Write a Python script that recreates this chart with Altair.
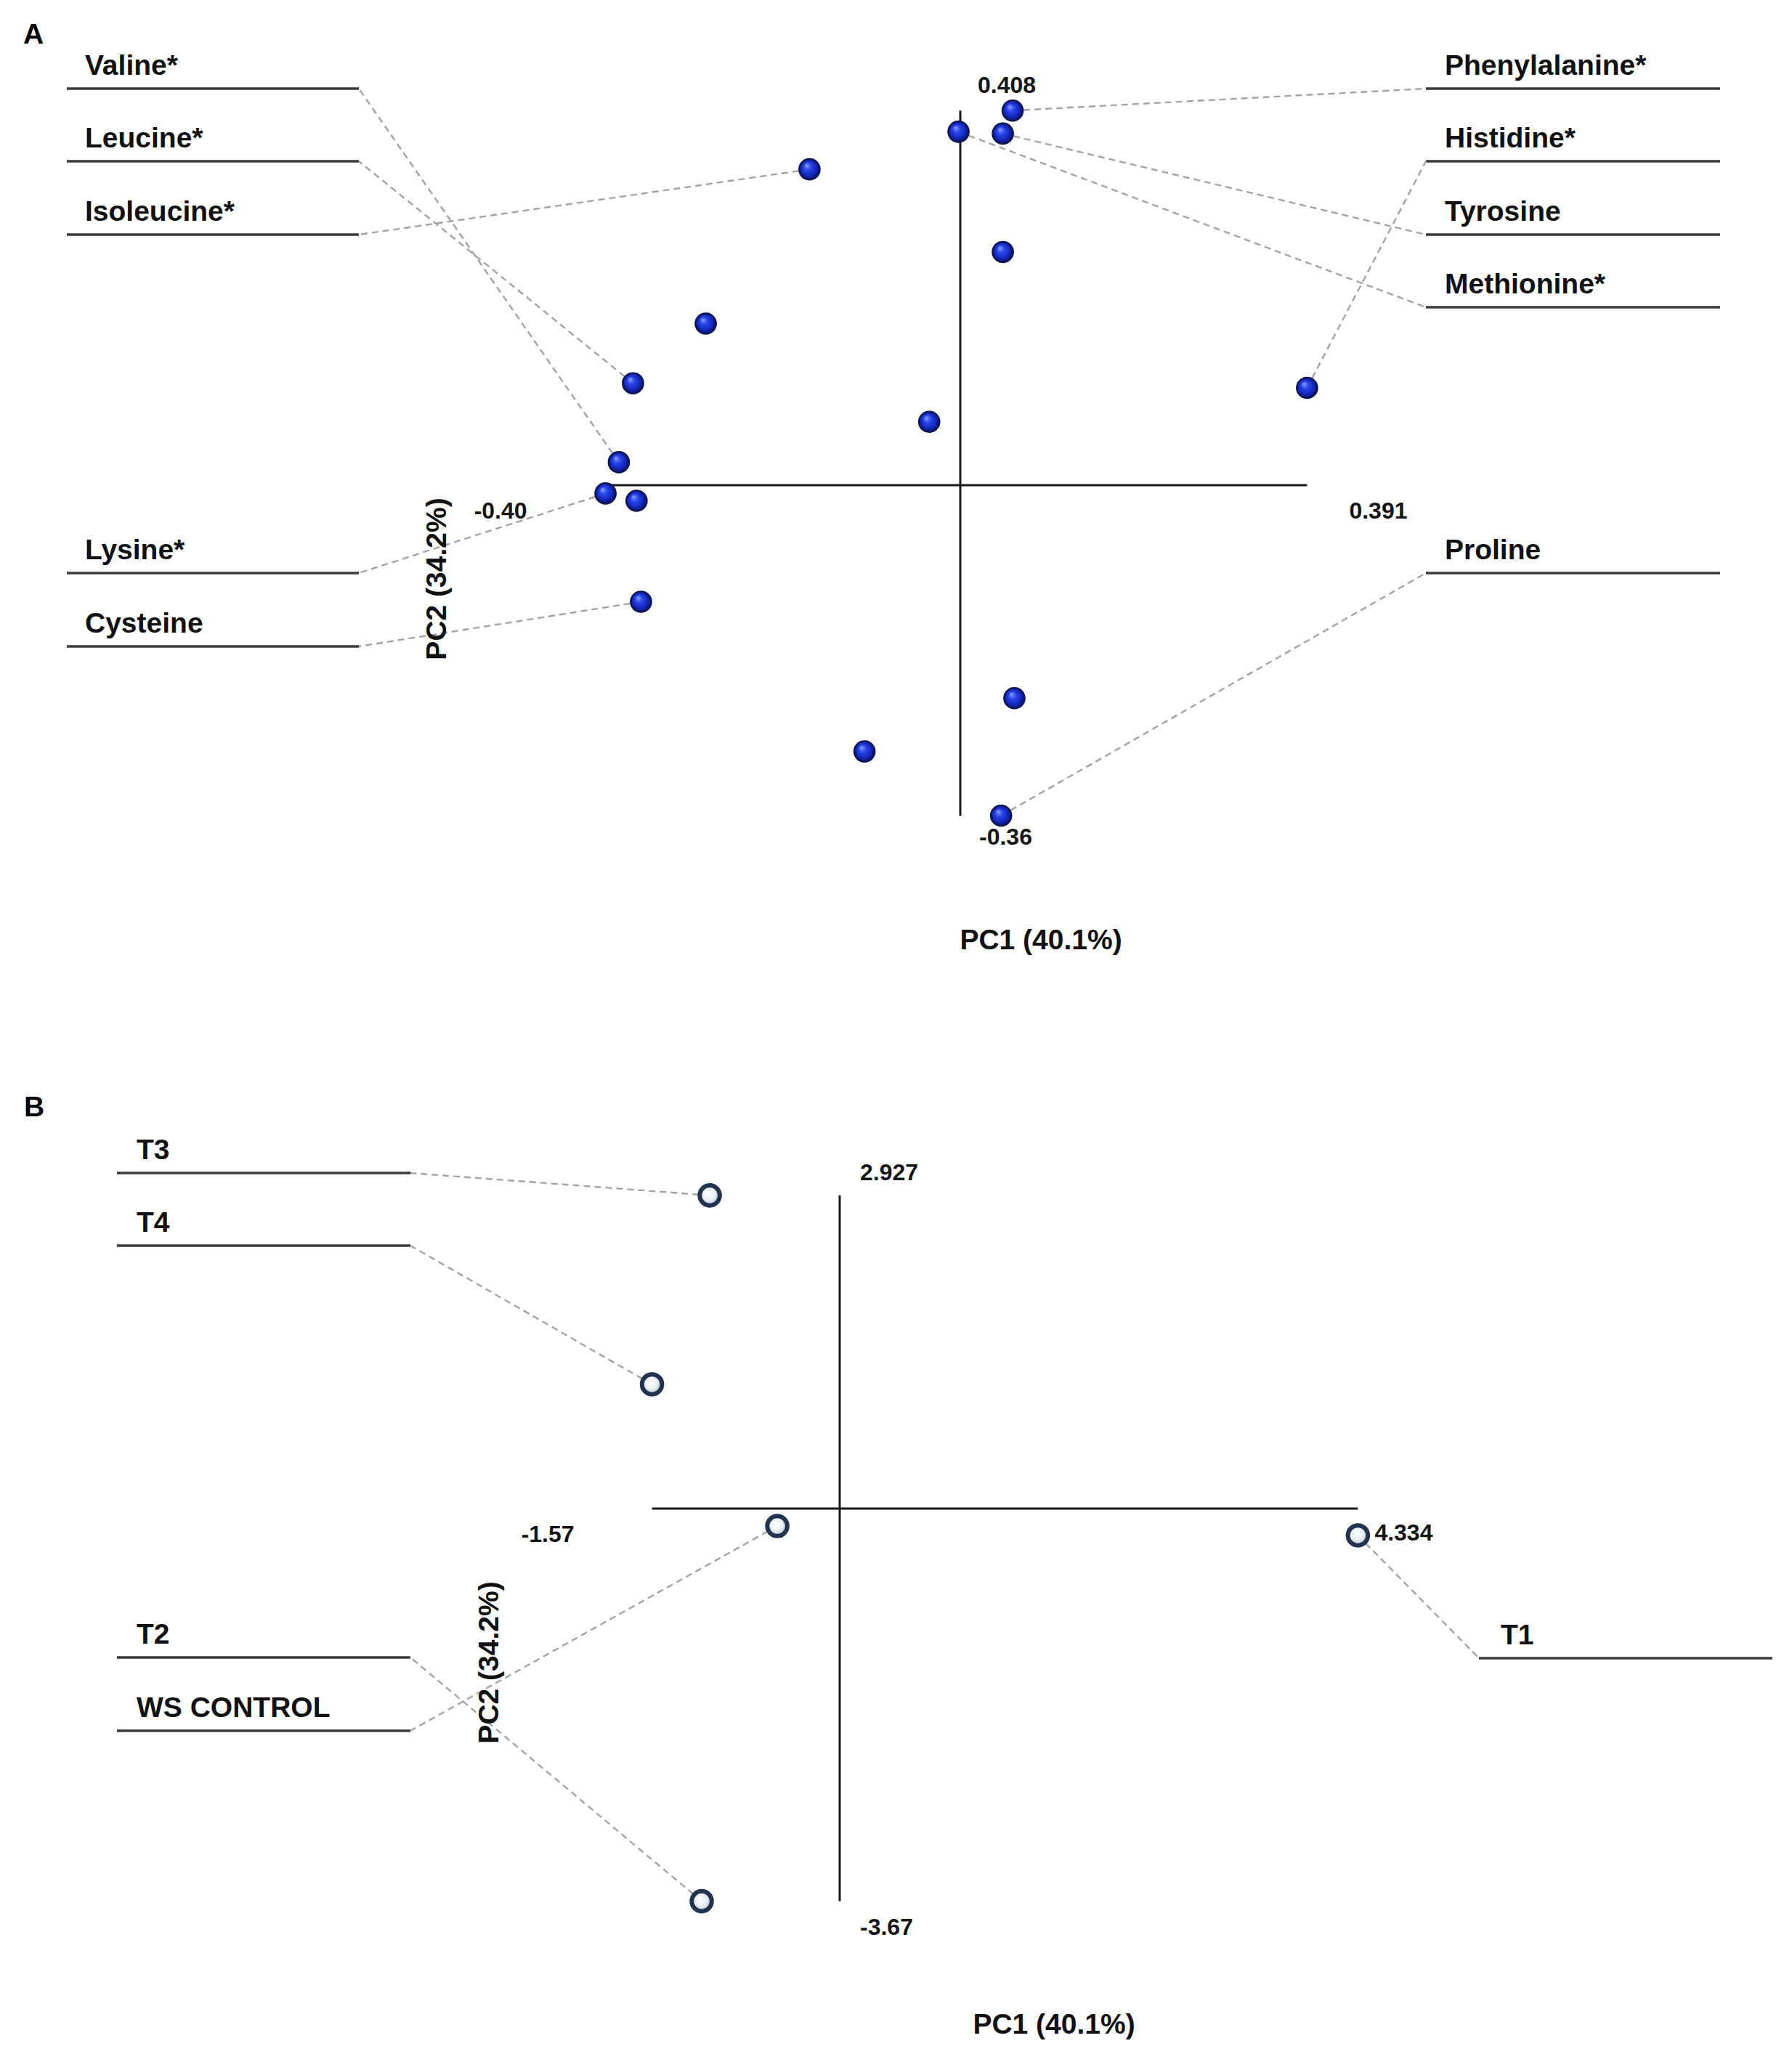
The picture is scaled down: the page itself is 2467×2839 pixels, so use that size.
import altair as alt
import pandas as pd

# ---------------- data ----------------
# Panel A: amino-acid loadings
aa_names = ["Phenylalanine*", "Methionine*", "Tyrosine", "Isoleucine*", "", "", "Leucine*",
            "Histidine*", "", "Valine*", "Lysine*", "", "Cysteine", "", "", "Proline"]
aa_pc1 = [0.059, -0.002, 0.048, -0.170, 0.048, -0.287, -0.369, 0.391, -0.035, -0.385,
          -0.40, -0.365, -0.360, 0.061, -0.108, 0.046]
aa_pc2 = [0.408, 0.385, 0.383, 0.344, 0.254, 0.176, 0.111, 0.106, 0.069, 0.025,
          -0.009, -0.017, -0.127, -0.232, -0.290, -0.36]
a_tick_text = ["-0.40", "0.391", "-0.36", "0.408"]
a_tick_value = [-0.40, 0.391, -0.36, 0.408]

# Panel B: treatment scores
trt_names = ["T3", "T4", "WS CONTROL", "T1", "T2"]
trt_pc1 = [-1.087, -1.57, -0.522, 4.334, -1.154]
trt_pc2 = [2.927, 1.161, -0.163, -0.251, -3.67]
b_tick_text = ["-1.57", "4.334", "-3.67", "2.927"]
b_tick_value = [-1.57, 4.334, -3.67, 2.927]

pc1_title = "PC1 (40.1%)"
pc2_title = "PC2 (34.2%)"
panel_letters = ["A", "B"]

# ---------------- layout ----------------
FONT = "Liberation Sans, Arial, Helvetica, sans-serif"
OFF = 8  # page margin


def P(v):
    return v - OFF


A_XD, A_XR = [-0.5, 0.5], [703.5, 1924.5]
A_YD, A_YR = [-0.5, 0.5], [1292.0, 28.0]
B_XD, B_XR = [-2.0, 5.0], [818.8, 1971.0]
B_YD, B_YR = [-4.0, 4.0], [2658.2, 1479.8]


def inv(v, d, r):
    return d[0] + (v - r[0]) * (d[1] - d[0]) / (r[1] - r[0])


# label slots: name -> underline y (page px); side geometry
A_LEFT = {"Valine*": 122, "Leucine*": 222, "Isoleucine*": 323, "Lysine*": 789, "Cysteine": 890}
A_RIGHT = {"Phenylalanine*": 122, "Histidine*": 222, "Tyrosine": 323, "Methionine*": 423, "Proline": 789}
A_GEOM = {"left": (92, 494, 117), "right": (1963, 2368, 1989)}

B_LEFT = {"T3": 1615, "T4": 1715, "T2": 2282, "WS CONTROL": 2383}
B_RIGHT = {"T1": 2283}
B_GEOM = {"left": (161, 565, 188), "right": (2036, 2440, 2066)}

A_TICK_OFF = [(-108, 46, "right"), (58, 46, "left"), (26, 40, "left"), (24, -24, "left")]
B_TICK_OFF = [(-107, 46, "right"), (23, 44, "left"), (28, 46, "left"), (28, -21, "left")]

A_FILL = alt.RadialGradient(
    gradient="radial", x1=0.35, y1=0.3, r1=0, x2=0.5, y2=0.5, r2=0.5,
    stops=[alt.GradientStop(offset=0, color="#8da4ff"),
           alt.GradientStop(offset=0.35, color="#2b46ea"),
           alt.GradientStop(offset=0.75, color="#1225b8"),
           alt.GradientStop(offset=1, color="#07114f")])
B_FILL = alt.RadialGradient(
    gradient="radial", x1=0.4, y1=0.35, r1=0, x2=0.5, y2=0.5, r2=0.5,
    stops=[alt.GradientStop(offset=0, color="#ffffff"),
           alt.GradientStop(offset=0.6, color="#eaeff4"),
           alt.GradientStop(offset=1, color="#a9b5c4")])


def panel(names, pc1, pc2, xd, xr, yd, yr, left, right, geom, tick_text, tick_val, tick_off, point_kw):
    xs = alt.Scale(domain=xd, range=xr, nice=False, zero=False)
    ys = alt.Scale(domain=yd, range=yr, nice=False, zero=False)
    X = lambda f: alt.X(f, type="quantitative", scale=xs, axis=None)
    Y = lambda f: alt.Y(f, type="quantitative", scale=ys, axis=None)

    pts = pd.DataFrame({"pc1": pc1, "pc2": pc2, "name": names})

    # leaders from label underline end to the point
    rows = []
    for n, x, y in zip(names, pc1, pc2):
        if n in left:
            ax = geom["left"][1]
            ay = left[n]
        elif n in right:
            ax = geom["right"][0]
            ay = right[n]
        else:
            continue
        rows.append({"x": x, "y": y, "x2": inv(P(ax), xd, xr), "y2": inv(P(ay), yd, yr)})
    lead = pd.DataFrame(rows)
    leaders = alt.Chart(lead).mark_rule(color="#a3a3a3", strokeWidth=2.4, strokeDash=[9, 6]).encode(
        x=X("x"), y=Y("y"), x2="x2:Q", y2="y2:Q")

    xmin, xmax, ymin, ymax = tick_val
    ax_df = pd.DataFrame({"x": [xmin, 0], "x2": [xmax, 0], "y": [0, ymin], "y2": [0, ymax]})
    axes = alt.Chart(ax_df).mark_rule(color="#1a1a1a", strokeWidth=3).encode(
        x=X("x"), y=Y("y"), x2="x2:Q", y2="y2:Q")

    points = alt.Chart(pts).mark_point(shape="circle", filled=True, opacity=1, **point_kw).encode(
        x=X("pc1"), y=Y("pc2"))

    tick_layers = []
    pos = [(xmin, 0), (xmax, 0), (0, ymin), (0, ymax)]
    for t, (tx, ty), (dx, dy, al) in zip(tick_text, pos, tick_off):
        tdf = pd.DataFrame({"x": [tx], "y": [ty], "t": [t]})
        tick_layers.append(
            alt.Chart(tdf).mark_text(font=FONT, fontSize=32, fontWeight="bold", color="#151515",
                                     align=al, baseline="alphabetic", dx=dx, dy=dy).encode(
                x=X("x"), y=Y("y"), text="t:N"))

    return alt.layer(leaders, axes, points, *tick_layers)


panelA = panel(aa_names, aa_pc1, aa_pc2, A_XD, A_XR, A_YD, A_YR, A_LEFT, A_RIGHT, A_GEOM,
               a_tick_text, a_tick_value, A_TICK_OFF,
               dict(fill=A_FILL, stroke="#0a1450", strokeWidth=2, size=820))
panelB = panel(trt_names, trt_pc1, trt_pc2, B_XD, B_XR, B_YD, B_YR, B_LEFT, B_RIGHT, B_GEOM,
               b_tick_text, b_tick_value, B_TICK_OFF,
               dict(fill=B_FILL, stroke="#22334d", strokeWidth=6, size=760))

# ---------------- pixel-space labels ----------------
lab_rows, ul_rows = [], []
for slots, geom in ((A_LEFT, A_GEOM["left"]), (A_RIGHT, A_GEOM["right"]),
                    (B_LEFT, B_GEOM["left"]), (B_RIGHT, B_GEOM["right"])):
    for n, uy in slots.items():
        lab_rows.append({"x": P(geom[2]), "y": P(uy - 19), "t": n})
        ul_rows.append({"x": P(geom[0]), "x2": P(geom[1]), "y": P(uy)})
lab_df = pd.DataFrame(lab_rows)
ul_df = pd.DataFrame(ul_rows)

PX = lambda f: alt.X(f, type="quantitative", scale=None)
PY = lambda f: alt.Y(f, type="quantitative", scale=None)

labels = alt.Chart(lab_df).mark_text(font=FONT, fontSize=39, fontWeight="bold", color="#111111",
                                     align="left", baseline="alphabetic").encode(
    x=PX("x"), y=PY("y"), text="t:N")
underlines = alt.Chart(ul_df).mark_rule(color="#3a3a3a", strokeWidth=3.5).encode(
    x=PX("x"), x2="x2:Q", y=PY("y"))

letters_df = pd.DataFrame({"x": [P(32), P(33)], "y": [P(60), P(1537)], "t": panel_letters})
letters = alt.Chart(letters_df).mark_text(font=FONT, fontSize=39, fontWeight="bold", color="#000000",
                                          align="left", baseline="alphabetic").encode(
    x=PX("x"), y=PY("y"), text="t:N")

pc1_df = pd.DataFrame({"x": [P(1433), P(1451)], "y": [P(1307), P(2800)], "t": [pc1_title, pc1_title]})
pc1_lab = alt.Chart(pc1_df).mark_text(font=FONT, fontSize=39, fontWeight="bold", color="#111111",
                                      align="center", baseline="alphabetic").encode(
    x=PX("x"), y=PY("y"), text="t:N")

pc2_df = pd.DataFrame({"x": [P(602), P(674)], "y": [P(797), P(2289)], "t": [pc2_title, pc2_title]})
pc2_lab = alt.Chart(pc2_df).mark_text(font=FONT, fontSize=39, fontWeight="bold", color="#111111",
                                      align="center", baseline="middle", angle=270).encode(
    x=PX("x"), y=PY("y"), text="t:N")

chart = alt.layer(
    underlines, panelA, panelB, labels, letters, pc1_lab, pc2_lab
).resolve_scale(x="independent", y="independent").properties(
    width=2451, height=2823, padding=0, background="white",
    autosize=alt.AutoSizeParams(type="none"),
).configure_view(stroke=None)

chart.save("out.html", embed_options={"renderer": "svg", "actions": False})
